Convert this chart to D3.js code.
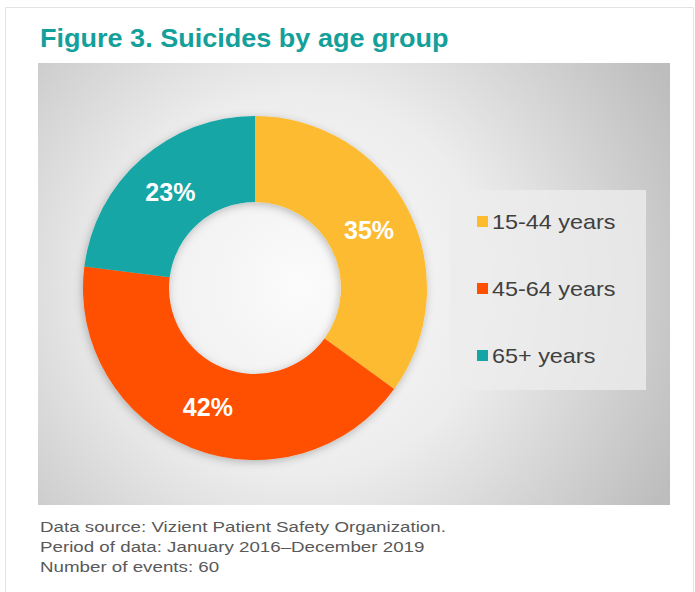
<!DOCTYPE html>
<html>
<head>
<meta charset="utf-8">
<script src="https://cdn.jsdelivr.net/npm/d3@7"></script>
<style>
  body { margin: 0; background: #fff; }
  svg { display: block; }
</style>
</head>
<body>
<svg id="chart"></svg>
<script>
// data
var ageGroups = ["15-44 years", "45-64 years", "65+ years"];
var shares = [35, 42, 23];
var sliceColors = ["#fdbb30", "#ff5000", "#13a6a5"];
var title = "Figure 3. Suicides by age group";
var notes = [
  "Data source: Vizient Patient Safety Organization.",
  "Period of data: January 2016\u2013December 2019",
  "Number of events: 60"
];

var dd = {
  width: 695,
  height: 592,
  plot: { x: 38, y: 63, w: 632, h: 442 },
  cx: 255, cy: 288,
  outer: 172, inner: 86
};
// the source picture is a bit stretched sideways
var stretch = { title: 1.04, legend: 1.17, notes: 1.25 };

var svg = d3.select("#chart")
  .attr("width", dd.width)
  .attr("height", dd.height);

var defs = svg.append("defs");
var grad = defs.append("radialGradient")
  .attr("id", "bg")
  .attr("gradientUnits", "userSpaceOnUse")
  .attr("cx", 300).attr("cy", 285).attr("r", 420);
grad.append("stop").attr("offset", "0%").attr("stop-color", "#fbfbfb");
grad.append("stop").attr("offset", "45%").attr("stop-color", "#ededed");
grad.append("stop").attr("offset", "100%").attr("stop-color", "#bdbdbd");

var shadow = defs.append("filter").attr("id", "shadow")
  .attr("x", "-20%").attr("y", "-20%").attr("width", "140%").attr("height", "140%");
shadow.append("feDropShadow")
  .attr("dx", -1).attr("dy", 2).attr("stdDeviation", 4)
  .attr("flood-color", "#000").attr("flood-opacity", 0.25);

// card frame
svg.append("path")
  .attr("d", "M5.5,592 V7.5 H693.5 V592")
  .attr("fill", "none")
  .attr("stroke", "#e3e3e3");

svg.append("text")
  .attr("transform", "translate(40,47) scale(" + stretch.title + ",1)")
  .attr("font-family", "'Liberation Sans Narrow', 'Arial Narrow', Arial, sans-serif")
  .attr("font-weight", "bold")
  .attr("font-size", 26)
  .attr("fill", "#14a09a")
  .text(title);

svg.append("rect")
  .attr("x", dd.plot.x).attr("y", dd.plot.y)
  .attr("width", dd.plot.w).attr("height", dd.plot.h)
  .attr("fill", "url(#bg)");

var pie = d3.pie().sort(null).value(function(d) { return d; });
var arc = d3.arc().innerRadius(dd.inner).outerRadius(dd.outer);
var labelArc = d3.arc().innerRadius(128).outerRadius(128);

var g = svg.append("g")
  .attr("transform", "translate(" + dd.cx + "," + dd.cy + ")");

g.append("g")
  .attr("filter", "url(#shadow)")
  .selectAll("path")
  .data(pie(shares))
  .enter().append("path")
  .attr("d", arc)
  .attr("fill", function(d, i) { return sliceColors[i]; });

g.selectAll(".lbl")
  .data(pie(shares))
  .enter().append("text")
  .attr("class", "lbl")
  .attr("transform", function(d) { return "translate(" + labelArc.centroid(d) + ")"; })
  .attr("text-anchor", "middle")
  .attr("dy", "0.36em")
  .attr("font-family", "Arial, 'Liberation Sans', sans-serif")
  .attr("font-weight", "bold")
  .attr("font-size", 25)
  .attr("fill", "#fff")
  .text(function(d) { return d.data + "%"; });

// legend
svg.append("rect")
  .attr("x", 450).attr("y", 190)
  .attr("width", 196).attr("height", 200)
  .attr("fill", "#ececec")
  .attr("opacity", 0.8);

var yLegend = d3.scalePoint().domain(ageGroups).range([222, 356]);

var legend = svg.append("g")
  .selectAll("g")
  .data(ageGroups)
  .enter().append("g")
  .attr("transform", function(d) { return "translate(477," + yLegend(d) + ")"; });

legend.append("rect")
  .attr("x", 0).attr("y", -6)
  .attr("width", 11).attr("height", 11)
  .attr("fill", function(d, i) { return sliceColors[i]; });

legend.append("text")
  .attr("transform", "translate(15,0) scale(" + stretch.legend + ",1)")
  .attr("dy", "0.36em")
  .attr("font-family", "Arial, 'Liberation Sans', sans-serif")
  .attr("font-size", 20)
  .attr("fill", "#404040")
  .text(function(d) { return d; });

svg.append("g")
  .selectAll("text")
  .data(notes)
  .enter().append("text")
  .attr("transform", function(d, i) {
    return "translate(40," + (532 + i * 20) + ") scale(" + stretch.notes + ",1)";
  })
  .attr("font-family", "Arial, 'Liberation Sans', sans-serif")
  .attr("font-size", 15)
  .attr("fill", "#595959")
  .text(function(d) { return d; });
</script>
</body>
</html>
